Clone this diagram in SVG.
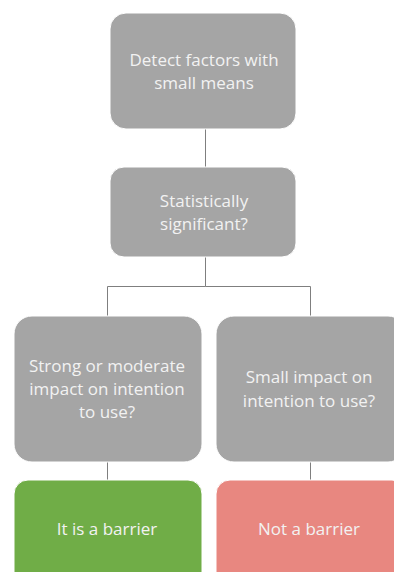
<svg xmlns="http://www.w3.org/2000/svg" width="394" height="572" viewBox="0 0 394 572">
<style>
.box{stroke:#ffffff;stroke-width:1}
.g{fill:#a5a5a5}
.t{font-family:"Open Sans","Liberation Sans",sans-serif;font-size:17px;fill:#f2f2f2;text-anchor:middle}
.c{stroke:#7f7f7f;stroke-width:1;fill:none}
</style>
<rect width="394" height="572" fill="#ffffff"/>
<g id="connectors">
<line class="c" x1="205.5" y1="128" x2="205.5" y2="167"/>
<polyline class="c" points="205.5,257 205.5,286.5 107.5,286.5 107.5,316"/>
<polyline class="c" points="205.5,286.5 310.5,286.5 310.5,316"/>
<line class="c" x1="107.5" y1="462" x2="107.5" y2="480"/>
<line class="c" x1="310.5" y1="462" x2="310.5" y2="480"/>
</g>
<g id="n1">
<rect class="box g" x="110" y="13" width="186" height="116" rx="16"/>
<text class="t" x="204" y="66">Detect factors with</text>
<text class="t" x="204" y="89">small means</text>
</g>
<g id="n2">
<rect class="box g" x="110" y="167" width="186" height="90" rx="14"/>
<text class="t" x="204" y="207">Statistically</text>
<text class="t" x="204" y="230">significant?</text>
</g>
<g id="n3">
<rect class="box g" x="14" y="316" width="188" height="146" rx="18"/>
<text class="t" x="107" y="372">Strong or moderate</text>
<text class="t" x="107" y="395">impact on intention</text>
<text class="t" x="107" y="418">to use?</text>
</g>
<g id="n4">
<rect class="box g" x="216" y="316" width="190" height="146" rx="18"/>
<text class="t" x="309" y="383">Small impact on</text>
<text class="t" x="309" y="407">intention to use?</text>
</g>
<g id="n5">
<rect class="box" x="14" y="480" width="188" height="110" rx="14" fill="#70ad47"/>
<text class="t" x="107" y="535">It is a barrier</text>
</g>
<g id="n6">
<rect class="box" x="216" y="480" width="190" height="110" rx="14" fill="#e88780"/>
<text class="t" x="309" y="535">Not a barrier</text>
</g>
</svg>
